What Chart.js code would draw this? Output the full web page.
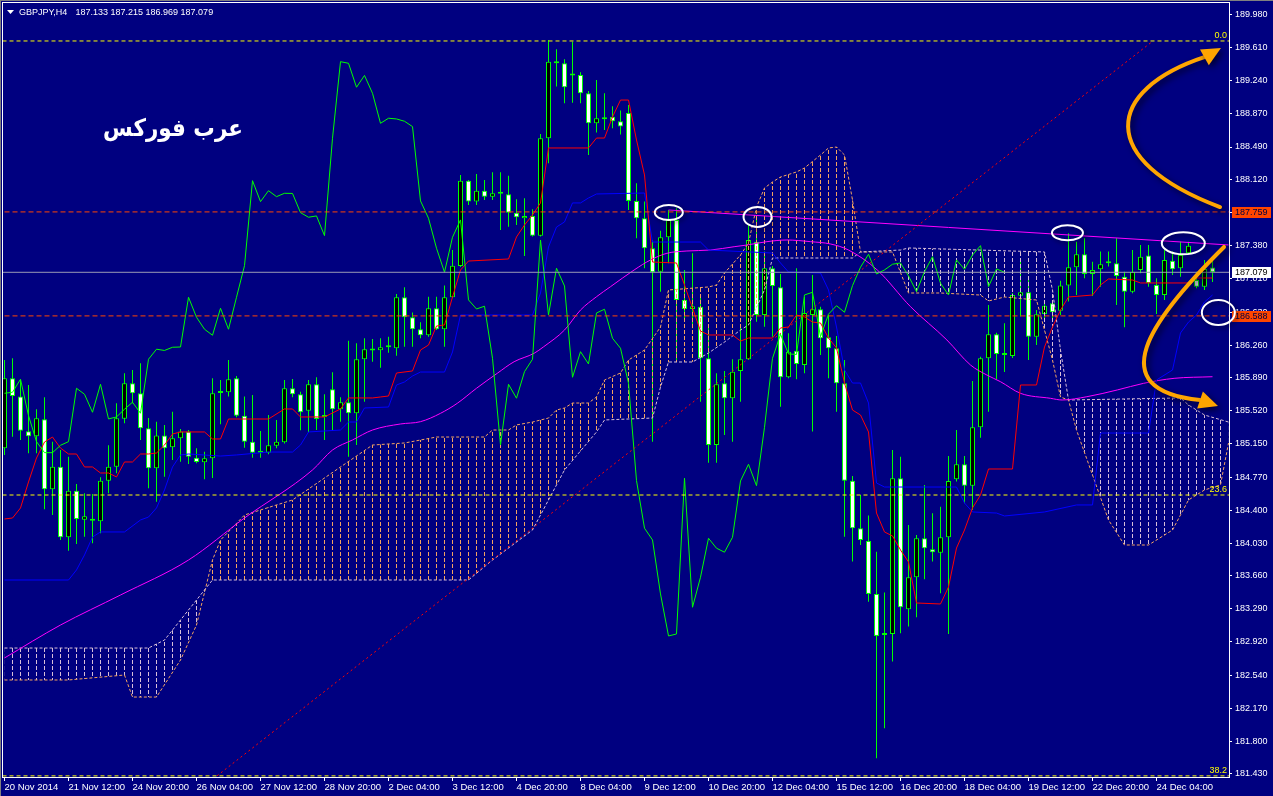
<!DOCTYPE html>
<html>
<head>
<meta charset="utf-8">
<title>GBPJPY,H4</title>
<script src="https://cdn.jsdelivr.net/npm/chart.js@4.4.1/dist/chart.umd.min.js"></script>
<style>
  html, body { margin: 0; padding: 0; background: #000080; }
  canvas { display: block; }
</style>
</head>
<body>
<canvas id="chart" width="1273" height="796"></canvas>
<script>
const symbol = "GBPJPY,H4";
const titleText = "عرب فوركس";

// time axis: one label every 8 bars (H4)
const dateLabels = ["20 Nov 2014", "21 Nov 12:00", "24 Nov 20:00", "26 Nov 04:00", "27 Nov 12:00",
  "28 Nov 20:00", "2 Dec 04:00", "3 Dec 12:00", "4 Dec 20:00", "8 Dec 04:00", "9 Dec 12:00",
  "10 Dec 20:00", "12 Dec 04:00", "15 Dec 12:00", "16 Dec 20:00", "18 Dec 04:00", "19 Dec 12:00",
  "22 Dec 20:00", "24 Dec 04:00"];
const priceTicks = [189.980, 189.610, 189.240, 188.870, 188.490, 188.120, 187.750, 187.380, 187.010,
  186.630, 186.260, 185.890, 185.520, 185.150, 184.770, 184.400, 184.030, 183.660, 183.290,
  182.920, 182.540, 182.170, 181.800, 181.430];

// candles
const opens = [
  185.098,185.886,185.679,185.289,185.233,185.424,184.636,184.890,184.095,184.620,
  184.293,184.282,184.276,184.733,184.890,185.431,185.830,185.717,185.323,184.872,
  185.240,185.109,185.210,185.285,184.992,184.940,184.985,185.720,185.728,185.886,
  185.465,185.172,185.053,185.048,185.127,185.165,185.773,185.706,185.521,185.818,
  185.461,185.762,185.537,185.616,185.492,186.100,186.205,186.201,186.235,186.224,
  186.798,186.573,186.438,186.370,186.674,186.438,186.798,187.151,188.111,187.875,
  187.998,187.931,187.965,187.958,187.751,187.688,187.714,187.492,188.589,189.451,
  189.433,189.301,189.301,189.095,188.757,188.803,188.830,188.780,188.874,187.883,
  187.688,187.350,187.086,187.474,187.669,186.768,186.666,186.692,186.111,185.135,
  185.830,185.661,185.968,186.100,187.424,186.599,187.125,186.911,185.897,186.197,
  186.036,186.599,186.663,186.348,186.224,185.830,184.733,184.197,184.054,183.457,
  182.995,183.006,184.760,183.285,183.645,184.084,183.960,183.922,184.095,184.749,
  184.917,184.676,185.334,186.111,186.381,186.148,186.137,186.816,186.854,186.354,
  186.610,186.730,186.647,186.929,187.136,187.282,187.060,187.113,187.181,187.181,
  187.030,186.861,187.106,187.267,186.937,186.824,187.210,187.125,187.294,186.993,
  186.917,187.133];
const highs = [
  186.092,186.111,185.867,185.811,185.537,185.672,185.172,185.079,185.003,184.696,
  184.591,184.583,184.771,185.131,185.604,185.942,185.979,186.055,185.439,185.397,
  185.360,185.510,185.315,185.304,185.098,185.059,185.886,185.867,186.092,185.912,
  185.679,185.698,185.292,185.473,185.416,185.867,185.878,185.735,185.867,185.897,
  185.706,185.953,185.672,186.309,186.280,186.336,186.328,186.336,186.354,186.835,
  186.911,186.625,186.517,186.805,186.805,186.929,187.331,188.175,188.119,188.187,
  188.119,188.206,188.206,188.167,187.902,187.913,187.789,188.637,189.696,189.591,
  189.478,189.676,189.332,189.121,189.245,189.095,188.950,188.900,188.964,188.082,
  187.875,187.443,187.548,187.781,187.800,187.106,187.294,186.824,186.486,185.942,
  185.968,186.100,186.486,187.612,187.688,187.312,187.151,187.060,186.393,187.125,
  186.801,187.049,186.692,186.599,186.362,186.092,184.786,184.572,184.339,183.933,
  183.472,185.079,185.003,184.234,184.121,184.684,184.366,184.440,185.011,185.304,
  185.011,185.856,186.129,186.711,186.399,186.505,186.846,187.218,187.030,186.655,
  186.768,186.749,186.985,187.519,187.424,187.462,187.199,187.312,187.312,187.462,
  187.086,187.331,187.387,187.387,187.012,187.331,187.312,187.424,187.424,187.086,
  187.218,187.215];
const lows = [
  185.022,185.228,185.191,185.041,185.041,184.411,184.347,184.065,183.944,184.020,
  184.102,184.028,184.140,184.591,184.816,185.379,185.604,185.191,184.647,184.496,
  184.778,184.966,184.947,184.921,184.929,184.749,184.763,185.368,185.679,185.447,
  185.104,184.992,184.992,185.030,185.098,185.150,185.672,185.300,185.278,185.304,
  185.191,185.304,185.397,185.003,185.135,185.622,186.073,186.005,186.174,186.140,
  186.242,186.242,186.336,186.354,186.430,186.242,186.790,187.140,187.837,187.837,
  187.894,187.894,187.556,187.593,187.612,187.263,187.481,187.481,188.307,189.170,
  188.983,188.989,188.983,188.401,188.652,188.682,188.700,188.630,187.781,187.463,
  187.125,185.172,186.861,187.181,186.073,186.562,186.449,185.622,184.935,184.935,
  185.247,185.172,185.622,186.092,186.523,186.467,186.354,185.566,185.886,185.875,
  185.942,185.285,186.148,185.886,185.510,184.102,183.821,184.009,183.370,181.607,
  181.945,182.695,183.014,183.089,183.195,183.622,183.821,183.465,183.006,184.722,
  184.478,184.403,185.217,185.510,185.875,185.957,186.115,186.580,186.092,186.261,
  186.542,186.542,186.599,186.749,186.824,187.012,186.813,186.917,187.143,186.711,
  186.460,186.843,187.068,186.917,186.610,186.768,187.049,187.030,187.280,186.900,
  186.880,186.969];
const closes = [
  185.886,185.687,185.296,185.233,185.435,184.636,184.890,184.095,184.620,184.301,
  184.332,184.290,184.733,184.890,185.435,185.830,185.717,185.323,184.872,185.240,
  185.098,185.210,185.285,185.003,184.943,184.985,185.717,185.728,185.875,185.465,
  185.172,185.048,185.048,185.131,185.172,185.773,185.706,185.503,185.818,185.428,
  185.450,185.537,185.616,185.492,186.100,186.213,186.199,186.235,186.238,186.798,
  186.573,186.438,186.370,186.674,186.438,186.798,187.154,188.111,187.875,187.998,
  187.931,187.969,187.967,187.751,187.699,187.714,187.492,188.589,189.451,189.433,
  189.163,189.296,189.095,188.757,188.814,188.806,188.780,188.720,187.883,187.688,
  187.350,187.080,187.474,187.669,186.768,186.666,186.697,186.111,185.135,185.818,
  185.661,185.960,186.100,187.443,186.599,187.125,186.925,185.897,186.185,186.047,
  186.621,186.663,186.336,186.224,185.830,184.733,184.197,184.065,183.457,182.984,
  183.006,184.760,183.307,183.645,184.084,183.972,183.927,184.095,184.729,184.917,
  184.676,185.334,186.111,186.381,186.160,186.154,186.824,186.854,186.354,186.607,
  186.703,186.629,186.929,187.136,187.282,187.060,187.106,187.170,187.184,187.038,
  186.861,187.086,187.255,186.956,186.824,187.218,187.113,187.274,187.379,186.917,
  187.117,187.079];

// ichimoku lines as [bar, price]
const tenkan = [[0,184.301],[1,184.312],[2,184.425],[3,184.718],[4,184.988],[5,185.168],[6,185.224],
  [7,185.100],[8,185.033],[9,185.033],[10,184.887],[11,184.887],[12,184.819],[13,184.819],[14,184.774],
  [15,184.943],[16,184.943],[17,185.033],[18,185.033],[19,185.044],[20,185.134],[21,185.258],[22,185.281],
  [25,185.281],[26,185.202],[27,185.202],[28,185.427],[33,185.427],[35,185.540],[36,185.540],[37,185.450],
  [40,185.450],[42,185.540],[43,185.664],[46,185.664],[47,185.675],[48,185.686],[49,185.945],[51,185.968],
  [52,186.204],[53,186.260],[54,186.474],[55,186.486],[56,186.801],[57,187.105],[58,187.206],[63,187.229],
  [64,187.477],[65,187.612],[66,187.724],[67,187.860],[68,188.479],[73,188.479],[74,188.591],[75,188.591],
  [76,188.828],[77,189.019],[78,189.019],[79,188.569],[80,188.175],[81,187.195],[84,187.184],[85,186.936],
  [86,186.677],[87,186.418],[88,186.373],[91,186.373],[92,186.305],[93,186.339],[96,186.339],[97,186.452],
  [98,186.463],[99,186.598],[100,186.576],[101,186.519],[102,186.508],[103,186.339],[104,186.227],
  [105,185.832],[106,185.528],[107,185.472],[108,185.281],[109,184.368],[110,184.155],[111,184.110],
  [112,183.952],[113,183.817],[114,183.355],[117,183.344],[118,183.535],[119,183.974],[120,184.177],
  [121,184.425],[122,184.571],[123,184.864],[126,184.864],[127,185.810],[129,185.810],[130,186.238],
  [131,186.463],[132,186.654],[133,186.801],[136,186.823],[137,186.936],[138,187.004],[141,186.992],
  [142,186.959],[148,186.959],[149,187.015],[151,187.015]];
const kijun = [[0,183.614],[8,183.614],[9,183.727],[10,183.896],[11,184.098],[12,184.155],[15,184.155],
  [17,184.290],[18,184.323],[19,184.425],[20,184.628],[21,184.887],[22,185.022],[23,185.033],[27,185.010],
  [29,185.022],[33,185.055],[36,185.055],[37,185.134],[38,185.281],[42,185.303],[43,185.393],[44,185.393],
  [45,185.551],[48,185.562],[49,185.810],[50,185.844],[51,185.911],[52,185.956],[55,185.956],[56,186.182],
  [57,186.598],[66,186.598],[67,186.846],[68,187.364],[69,187.589],[70,187.646],[71,187.860],[72,187.860],
  [73,187.916],[74,187.961],[80,187.972],[81,187.420],[87,187.420],[88,187.330],[96,187.296],[97,187.184],
  [98,187.082],[102,187.071],[103,186.880],[104,186.463],[105,185.979],[106,185.832],[107,185.832],
  [108,185.607],[109,184.706],[110,184.661],[119,184.661],[120,184.481],[121,184.380],[124,184.368],
  [125,184.335],[130,184.380],[134,184.459],[136,184.459],[137,185.269],[143,185.269],[144,185.866],
  [146,185.979],[147,186.396],[148,186.519],[149,186.598],[150,186.745],[151,186.823]];
const senkouA = [[0,182.488],[8,182.488],[15,182.544],[16,182.296],[19,182.296],[22,182.713],[24,183.107],
  [26,183.839],[27,184.064],[30,184.346],[36,184.515],[46,185.134],[50,185.157],[54,185.224],[60,185.224],
  [61,185.303],[63,185.303],[64,185.360],[66,185.393],[68,185.438],[69,185.528],[70,185.551],[71,185.607],
  [73,185.607],[74,185.675],[75,185.866],[77,185.945],[78,186.091],[80,186.204],[82,186.463],[83,186.880],
  [88,186.914],[89,186.936],[90,187.071],[92,187.274],[93,187.409],[94,187.814],[95,188.028],[96,188.096],
  [97,188.152],[99,188.209],[100,188.254],[102,188.400],[103,188.479],[104,188.490],[105,188.400],
  [106,187.893],[107,187.308],[111,187.308],[113,186.846],[117,186.846],[122,186.823],[123,186.756],
  [125,186.801],[129,186.767],[131,186.091],[132,185.675],[133,185.641],[134,185.303],[138,184.290],
  [140,184.008],[143,184.008],[146,184.177],[148,184.515],[150,184.628],[152,184.684],[153,185.157]];
const senkouB = [[0,182.848],[18,182.848],[20,182.938],[26,183.614],[58,183.614],[61,183.839],[66,184.177],
  [70,184.853],[74,185.281],[75,185.416],[81,185.438],[82,185.787],[83,186.069],[86,186.069],[88,186.170],
  [90,186.294],[92,186.429],[93,186.486],[95,186.880],[96,187.240],[106,187.240],[107,187.308],[112,187.330],
  [113,187.353],[130,187.308],[131,186.880],[132,186.204],[133,185.641],[147,185.664],[148,185.585],
  [150,185.472],[153,185.393]];
const movingAvg = [[0,182.736],[7,183.107],[14.5,183.445],[23,183.839],[30,184.312],[38.5,184.853],
  [41,185.078],[43.5,185.191],[46,185.303],[49.5,185.371],[52,185.397],[54.5,185.491],[56.6,185.604],
  [59,185.773],[61.6,185.942],[63.7,186.072],[66.2,186.167],[67.4,186.241],[70,186.429],[72,186.654],
  [74,186.804],[75.75,186.917],[78.7,187.105],[80.75,187.218],[82.8,187.293],[85.3,187.319],[88.25,187.330],
  [91.2,187.367],[92.8,187.386],[95.3,187.424],[97.8,187.443],[100.75,187.424],[103.25,187.398],
  [105.5,187.330],[109.1,187.105],[113.25,186.692],[117.8,186.317],[120.75,186.035],[122.8,185.922],
  [124.5,185.847],[127,185.716],[130.75,185.660],[132.2,185.641],[135.3,185.678],[139.1,185.754],
  [142.4,185.829],[146.2,185.885],[151,185.903]];

// drawn objects
const fibLevels = [189.684, 184.571, 181.408];
const fibNames = ["0.0", "23.6", "38.2"];
const fibTrend = [[26.56, 181.408], [143.56, 189.684]];
const resistanceLine = [[83, 187.781], [153, 187.387]];
const redLevels = [187.759, 186.588];
const ellipses = [
  { at: [83.04, 187.752], rx: 14, ry: 7.5 },
  { at: [94.13, 187.702], rx: 14, ry: 10 },
  { at: [132.87, 187.524], rx: 15.5, ry: 7.5 },
  { at: [147.35, 187.406], rx: 21.5, ry: 11 },
  { at: [151.73, 186.626], rx: 16.5, ry: 12.5 }
];
const arrows = [
  { path: [[151.94, 187.814], [136.31, 188.344], [137.56, 189.132], [150.06, 189.504]], tip: [152.06, 189.605] },
  { path: [[152.44, 187.364], [143.19, 186.542], [136.94, 185.754], [149.44, 185.641]], tip: [151.69, 185.573] }
];
const titleAt = [21.06, 188.682];

const navy = "#000080";
const lime = "#00ff00";
const font = "'Liberation Sans', Arial, sans-serif";
const lastBar = closes.length - 1;
const bid = closes[lastBar];

const pts = arr => arr.map(([x, y]) => ({ x, y }));
const hline = v => [{ x: -2, y: v }, { x: 160, y: v }];

// vertical dotted hatching, one stroke per bar (bars sit at 4.5 + 8*i px)
function hatch(color) {
  const c = document.createElement("canvas");
  c.width = 8; c.height = 6;
  const g = c.getContext("2d");
  g.fillStyle = color;
  g.fillRect(4, 0, 1, 4);
  return g.createPattern(c, "repeat");
}

function lineSet(label, data, color, order, extra) {
  return Object.assign({
    type: "line", label, data, borderColor: color, borderWidth: 1,
    pointRadius: 0, fill: false, order
  }, extra || {});
}

const overlay = {
  id: "overlay",
  beforeDraw(chart) {
    const { ctx, width, height } = chart;
    ctx.save();
    ctx.fillStyle = navy;
    ctx.fillRect(0, 0, width, height);
    ctx.fillStyle = "#808080";
    ctx.fillRect(0, 0, width, 1);
    ctx.fillRect(0, 0, 1, height);
    ctx.restore();
  },
  afterDraw(chart) {
    const { ctx, chartArea: a, scales } = chart;
    const px = (b, v) => ({ x: scales.x.getPixelForValue(b), y: scales.y.getPixelForValue(v) });
    ctx.save();

    // frame
    ctx.strokeStyle = "#ffffff";
    ctx.lineWidth = 1;
    ctx.strokeRect(a.left - 0.5, a.top - 0.5, a.right - a.left + 1, a.bottom - a.top + 1);

    // header
    ctx.fillStyle = "#ffffff";
    ctx.beginPath();
    ctx.moveTo(7, 10); ctx.lineTo(14, 10); ctx.lineTo(10.5, 14); ctx.closePath();
    ctx.fill();
    ctx.font = "9px " + font;
    ctx.textBaseline = "alphabetic";
    ctx.textAlign = "left";
    ctx.fillText(symbol, 19, 15);
    const f = v => v.toFixed(3);
    ctx.fillText([f(opens[lastBar]), f(highs[lastBar]), f(lows[lastBar]), f(closes[lastBar])].join(" "), 75.5, 15);

    // fib level names
    ctx.fillStyle = "#ffff00";
    ctx.textAlign = "right";
    fibLevels.forEach((v, i) => ctx.fillText(fibNames[i], a.right - 2, scales.y.getPixelForValue(v) - 3));

    // price boxes on the axis
    const box = (v, bg, fg) => {
      const y = Math.round(scales.y.getPixelForValue(v));
      ctx.fillStyle = bg;
      ctx.fillRect(a.right + 3, y - 5, 39, 11);
      ctx.fillStyle = fg;
      ctx.textAlign = "left";
      ctx.textBaseline = "middle";
      ctx.fillText(v.toFixed(3), a.right + 6, y + 0.5);
    };
    redLevels.forEach(v => box(v, "#ff4500", "#000040"));
    box(bid, "#ffffff", "#000000");

    // title
    ctx.font = "bold 24px 'DejaVu Sans', sans-serif";
    ctx.direction = "rtl";
    ctx.textAlign = "center";
    ctx.textBaseline = "middle";
    ctx.fillStyle = "#ffffff";
    const tp = px(titleAt[0], titleAt[1]);
    const w = ctx.measureText(titleText).width;
    ctx.save();
    ctx.translate(tp.x, tp.y);
    ctx.scale(140 / w, 1);
    ctx.fillText(titleText, 0, 0);
    ctx.restore();
    ctx.direction = "ltr";

    // ellipses
    ctx.shadowColor = "rgba(0,0,0,0.55)";
    ctx.shadowBlur = 5;
    ctx.shadowOffsetX = 2;
    ctx.shadowOffsetY = 2;
    ctx.strokeStyle = "#ffffff";
    ctx.lineWidth = 2;
    ellipses.forEach(e => {
      const c = px(e.at[0], e.at[1]);
      ctx.beginPath();
      ctx.ellipse(c.x, c.y, e.rx, e.ry, 0, 0, Math.PI * 2);
      ctx.stroke();
    });

    // arrows
    ctx.shadowColor = "rgba(0,0,30,0.8)";
    ctx.shadowBlur = 6;
    ctx.shadowOffsetX = 3;
    ctx.shadowOffsetY = 3;
    ctx.strokeStyle = "#ffa500";
    ctx.fillStyle = "#ffa500";
    ctx.lineWidth = 4;
    ctx.lineCap = "round";
    arrows.forEach(ar => {
      const p = ar.path.map(([b, v]) => px(b, v));
      const tip = px(ar.tip[0], ar.tip[1]);
      ctx.beginPath();
      ctx.moveTo(p[0].x, p[0].y);
      ctx.bezierCurveTo(p[1].x, p[1].y, p[2].x, p[2].y, p[3].x, p[3].y);
      ctx.stroke();
      const ang = Math.atan2(tip.y - p[3].y, tip.x - p[3].x);
      const len = 19, half = 9;
      const bx = tip.x - len * Math.cos(ang), by = tip.y - len * Math.sin(ang);
      ctx.beginPath();
      ctx.moveTo(tip.x, tip.y);
      ctx.lineTo(bx + half * Math.sin(ang), by - half * Math.cos(ang));
      ctx.lineTo(bx - half * Math.sin(ang), by + half * Math.cos(ang));
      ctx.closePath();
      ctx.fill();
    });
    ctx.restore();
  }
};

const ctx = document.getElementById("chart").getContext("2d");
new Chart(ctx, {
  type: "bar",
  data: {
    datasets: [
      {
        type: "bar", label: "wicks", order: 40, grouped: false,
        data: highs.map((h, i) => ({ x: i, y: [lows[i], h] })),
        backgroundColor: lime, barThickness: 1, inflateAmount: 0
      },
      {
        type: "bar", label: "bodies", order: 39, grouped: false,
        data: opens.map((o, i) => ({ x: i, y: [o, closes[i]] })),
        backgroundColor: closes.map((c, i) => c < opens[i] ? "#ffffff" : "#000000"),
        borderColor: lime, borderWidth: 1, borderSkipped: false,
        barThickness: 5, minBarLength: 2, inflateAmount: 0
      },
      lineSet("Senkou Span A", pts(senkouA), "#f4a460", 30, {
        borderDash: [3, 2], fill: { target: 3, above: hatch("#f4a460"), below: hatch("#d8bfd8") }
      }),
      lineSet("Senkou Span B", pts(senkouB), "#d8bfd8", 29, { borderDash: [3, 2] }),
      lineSet("MA", pts(movingAvg), "#ff00ff", 20, { cubicInterpolationMode: "monotone" }),
      lineSet("Kijun", pts(kijun), "#0000ff", 19),
      lineSet("Tenkan", pts(tenkan), "#ff0000", 18),
      lineSet("Chikou", closes.slice(26).map((c, i) => ({ x: i, y: c })), lime, 17),
      lineSet("trend", pts(resistanceLine), "#ff00ff", 12),
      lineSet("fib trend", pts(fibTrend), "#ff0000", 11, { borderDash: [2, 3] }),
      ...fibLevels.map((v, i) => lineSet("fib " + fibNames[i], hline(v), "#ffff00", 10, { borderDash: [4, 3] })),
      ...redLevels.map(v => lineSet("level " + v, hline(v), "#ff4500", 9, { borderDash: [5, 3] })),
      lineSet("bid", hline(bid), "#9a9ab4", 8)
    ]
  },
  options: {
    responsive: false,
    animation: false,
    devicePixelRatio: 1,
    layout: { padding: { left: 3, top: 3, right: 0, bottom: 0 } },
    plugins: {
      legend: { display: false },
      tooltip: { enabled: false },
      filler: { drawTime: "beforeDatasetDraw" }
    },
    scales: {
      x: {
        type: "linear",
        min: -0.1875,
        max: 153.0625,
        offset: false,
        afterBuildTicks: axis => { axis.ticks = dateLabels.map((_, i) => ({ value: i * 8 })); },
        afterFit: axis => {
          axis.height = 19;
          axis.paddingLeft = 0;
          axis.paddingRight = 0;
        },
        grid: { drawOnChartArea: false, offset: false, color: "#ffffff", tickLength: 4 },
        border: { display: false },
        ticks: {
          autoSkip: false, maxRotation: 0, minRotation: 0, align: "start", padding: 1,
          color: "#ffffff", font: { family: font, size: 9.5 },
          callback: (v, i) => dateLabels[i]
        }
      },
      y: {
        type: "linear",
        position: "right",
        min: 181.3955,
        max: 190.1117,
        bounds: "data",
        afterBuildTicks: axis => { axis.ticks = priceTicks.map(v => ({ value: v })); },
        afterFit: axis => {
          axis.width = 44;
          axis.paddingTop = 0;
          axis.paddingBottom = 0;
        },
        grid: { drawOnChartArea: false, color: "#ffffff", tickLength: 3 },
        border: { display: false },
        ticks: {
          padding: 3, color: "#ffffff", font: { family: font, size: 9 },
          callback: v => v.toFixed(3)
        }
      }
    }
  },
  plugins: [overlay]
});
</script>
</body>
</html>
